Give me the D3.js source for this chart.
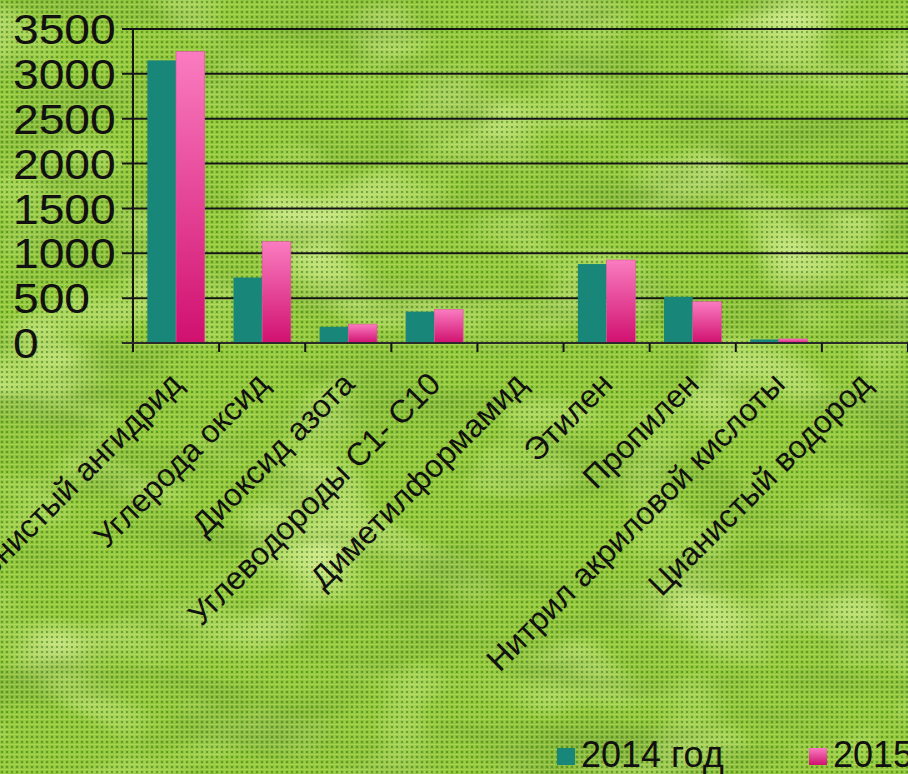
<!DOCTYPE html>
<html>
<head>
<meta charset="utf-8">
<script src="https://cdn.jsdelivr.net/npm/d3@7"></script>
<style>
  html, body { margin: 0; padding: 0; background: #8cc43c; }
  svg { display: block; }
  text { font-family: "Liberation Sans", Arial, sans-serif; fill: #111; }
</style>
</head>
<body>
<div id="chart"></div>
<script>
const width = 908;
const height = 774;

const categories = ["Сернистый ангидрид", "Углерода оксид", "Диоксид азота", "Углеводороды С1- С10",
  "Диметилформамид", "Этилен", "Пропилен", "Нитрил акриловой кислоты", "Цианистый водород"];
const values2014 = [3150, 730, 180, 350, 5, 880, 515, 40, 2];
const values2015 = [3250, 1130, 210, 375, 8, 925, 460, 45, 3];
const seriesNames = ["2014 год", "2015 год"];
const yTicks = [0, 500, 1000, 1500, 2000, 2500, 3000, 3500];

const margin = {top: 29, left: 133, bottom: 431};
const plotRight = 908;

const svg = d3.select("#chart")
  .append("svg")
  .attr("width", width)
  .attr("height", height);

const defs = svg.append("defs");

// burlap-ish background
const weave = defs.append("pattern")
  .attr("id", "weave")
  .attr("width", 5)
  .attr("height", 5)
  .attr("patternUnits", "userSpaceOnUse");
weave.append("rect").attr("x", 1).attr("y", 1).attr("width", 2).attr("height", 2)
  .attr("fill", "#2a660c").attr("opacity", 0.45);
weave.append("rect").attr("x", 0).attr("y", 4).attr("width", 5).attr("height", 1)
  .attr("fill", "#e2f58a").attr("opacity", 0.3);
weave.append("rect").attr("x", 4).attr("y", 0).attr("width", 1).attr("height", 4)
  .attr("fill", "#d4ef7a").attr("opacity", 0.2);

const dark = defs.append("filter").attr("id", "dark")
  .attr("x", 0).attr("y", 0).attr("width", "100%").attr("height", "100%");
dark.append("feTurbulence")
  .attr("type", "fractalNoise")
  .attr("baseFrequency", "0.006 0.018")
  .attr("numOctaves", 3)
  .attr("seed", 7);
dark.append("feColorMatrix")
  .attr("type", "matrix")
  .attr("values", "0 0 0 0 0.2  0 0 0 0 0.42  0 0 0 0 0.04  2.6 0 0 0 -1.2");

const light = defs.append("filter").attr("id", "light")
  .attr("x", 0).attr("y", 0).attr("width", "100%").attr("height", "100%");
light.append("feTurbulence")
  .attr("type", "fractalNoise")
  .attr("baseFrequency", "0.008 0.012")
  .attr("numOctaves", 2)
  .attr("seed", 21);
light.append("feColorMatrix")
  .attr("type", "matrix")
  .attr("values", "0 0 0 0 0.78  0 0 0 0 0.92  0 0 0 0 0.42  2.4 0 0 0 -1.15");

const pinkGrad = defs.append("linearGradient")
  .attr("id", "pink")
  .attr("x1", 0).attr("y1", 0).attr("x2", 0).attr("y2", 1);
pinkGrad.append("stop").attr("offset", "0%").attr("stop-color", "#fa7cc0");
pinkGrad.append("stop").attr("offset", "100%").attr("stop-color", "#d0106f");

svg.append("rect").attr("width", width).attr("height", height).attr("fill", "#8fc63a");
svg.append("rect").attr("width", width).attr("height", height).attr("filter", "url(#light)").attr("opacity", 0.8);
svg.append("rect").attr("width", width).attr("height", height).attr("filter", "url(#dark)").attr("opacity", 0.8);
svg.append("rect").attr("width", width).attr("height", height).attr("fill", "url(#weave)");

const x = d3.scaleBand()
  .domain(categories)
  .range([margin.left, plotRight])
  .paddingInner(0)
  .paddingOuter(0);

const xSub = d3.scaleBand()
  .domain(seriesNames)
  .range([0, x.bandwidth()])
  .paddingOuter(0.5)
  .paddingInner(0);

const y = d3.scaleLinear()
  .domain([0, 3500])
  .range([height - margin.bottom, margin.top]);

// gridlines
svg.append("g")
  .selectAll("line")
  .data(yTicks)
  .enter().append("line")
  .attr("x1", margin.left - 11)
  .attr("x2", plotRight)
  .attr("y1", d => y(d))
  .attr("y2", d => y(d))
  .attr("stroke", "#141414")
  .attr("stroke-width", 2);

// y labels
svg.append("g")
  .selectAll("text")
  .data(yTicks)
  .enter().append("text")
  .attr("transform", d => `translate(13,${y(d)}) scale(1.1,1)`)
  .attr("dy", "0.36em")
  .attr("font-size", 42)
  .text(d => d);

// bars
const groups = svg.append("g")
  .selectAll("g")
  .data(categories)
  .enter().append("g")
  .attr("transform", d => `translate(${x(d)},0)`);

groups.append("rect")
  .attr("x", xSub("2014 год"))
  .attr("width", xSub.bandwidth())
  .attr("y", (d, i) => y(values2014[i]))
  .attr("height", (d, i) => y(0) - y(values2014[i]))
  .attr("fill", "#19867a");

groups.append("rect")
  .attr("x", xSub("2015 год"))
  .attr("width", xSub.bandwidth())
  .attr("y", (d, i) => y(values2015[i]))
  .attr("height", (d, i) => y(0) - y(values2015[i]))
  .attr("fill", "url(#pink)")
  .attr("stroke", "#e0559e")
  .attr("stroke-width", 0.6);

// axes
svg.append("line")
  .attr("x1", margin.left).attr("x2", margin.left)
  .attr("y1", margin.top).attr("y2", y(0) + 9)
  .attr("stroke", "#141414").attr("stroke-width", 2);

svg.append("line")
  .attr("x1", margin.left - 11).attr("x2", plotRight)
  .attr("y1", y(0)).attr("y2", y(0))
  .attr("stroke", "#2a2a2a").attr("stroke-width", 2);

svg.append("g")
  .selectAll("line")
  .data(categories)
  .enter().append("line")
  .attr("x1", d => x(d) + x.bandwidth())
  .attr("x2", d => x(d) + x.bandwidth())
  .attr("y1", y(0))
  .attr("y2", y(0) + 9)
  .attr("stroke", "#141414")
  .attr("stroke-width", 2);

// category labels
svg.append("g")
  .selectAll("text")
  .data(categories)
  .enter().append("text")
  .attr("transform", d => `translate(${x(d) + x.bandwidth() / 2 + 8},${y(0) + 43}) rotate(-45)`)
  .attr("text-anchor", "end")
  .attr("font-size", 32)
  .text(d => d);

// legend
const legendX = [557, 809];
const legend = svg.append("g")
  .selectAll("g")
  .data(seriesNames)
  .enter().append("g")
  .attr("transform", (d, i) => `translate(${legendX[i]},748)`);

legend.append("rect")
  .attr("width", 18)
  .attr("height", 17)
  .attr("fill", (d, i) => i === 0 ? "#19867a" : "url(#pink)");

legend.append("text")
  .attr("x", 24)
  .attr("y", 19)
  .attr("font-size", 36)
  .text(d => d);
</script>
</body>
</html>
